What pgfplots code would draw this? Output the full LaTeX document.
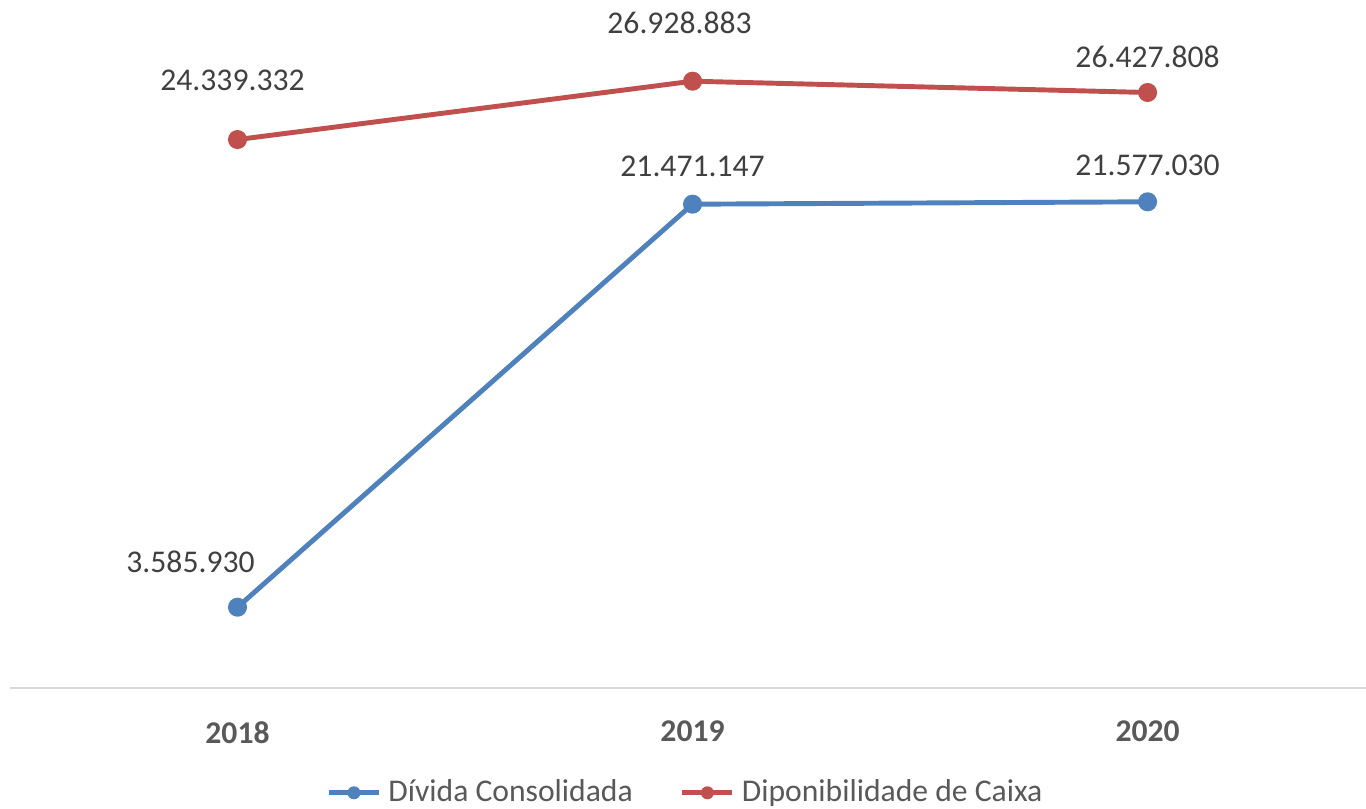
\documentclass[border=0pt]{standalone}
\usepackage{pgfplots}
\pgfplotsset{compat=1.18}
\usepackage{fontspec}
\setmainfont{Carlito}
\definecolor{serieA}{HTML}{4F81BD}
\definecolor{serieB}{HTML}{C0504D}
\definecolor{labgray}{HTML}{404040}
\definecolor{tickgray}{HTML}{595959}
\definecolor{axgray}{HTML}{D9D9D9}

% x, valor, rotulo, deslocamentos do rotulo (mm)
\pgfplotstableread{
x y lab dx dy
0 3585930  3.585.930  -4.7 4.5
1 21471147 21.471.147 0.0  3.8
2 21577030 21.577.030 0.0  3.6
}\divida
\pgfplotstableread{
x y lab dx dy
0 24339332 24.339.332 -0.5 5.9
1 26928883 26.928.883 -1.3 5.8
2 26427808 26.427.808 0.0  3.6
}\caixa

\begin{document}
\fontsize{9pt}{11pt}\selectfont
\begin{tikzpicture}
\begin{axis}[
    scale only axis,
    width=135.6mm, height=67.6mm,
    xmin=-0.5, xmax=2.48,
    ymin=0, ymax=30000000,
    axis y line=none,
    axis x line*=bottom,
    x axis line style={draw=axgray, line width=0.8pt, -},
    xtick={0,1,2},
    xticklabels={2018,2019,2020},
    xtick style={draw=none},
    x tick label style={font=\fontsize{9pt}{11pt}\selectfont\bfseries, text=tickgray, yshift=-2.2mm},
    clip=false,
    nodes near coords,
    point meta=explicit symbolic,
    nodes near coords style={font=\fontsize{9pt}{11pt}\selectfont, text=labgray, anchor=center,
        xshift=\dx mm, yshift=\dy mm},
    visualization depends on={\thisrow{dx} \as \dx},
    visualization depends on={\thisrow{dy} \as \dy},
    legend columns=2,
    legend style={draw=none, at={(0.5,-0.155)}, anchor=center,
        font=\fontsize{9pt}{11pt}\selectfont, text=tickgray,
        /tikz/every even column/.append style={column sep=4mm}},
    legend image code/.code={
        \draw[#1, mark=none] (0cm,0cm) -- (0.5cm,0cm);
        \fill[#1, draw=none] (0.25cm,0cm) circle (0.65mm);
    },
]
\addplot[serieA, line width=1.4pt, mark=*, mark size=2pt]
    table[x=x, y=y, meta=lab] {\divida};
\addlegendentry{Dívida Consolidada}
\addplot[serieB, line width=1.4pt, mark=*, mark size=2pt]
    table[x=x, y=y, meta=lab] {\caixa};
\addlegendentry{Diponibilidade de Caixa}
\end{axis}
\pgfresetboundingbox
\useasboundingbox (-1mm,-12mm) rectangle (135.6mm,68.8mm);
\end{tikzpicture}
\end{document}
